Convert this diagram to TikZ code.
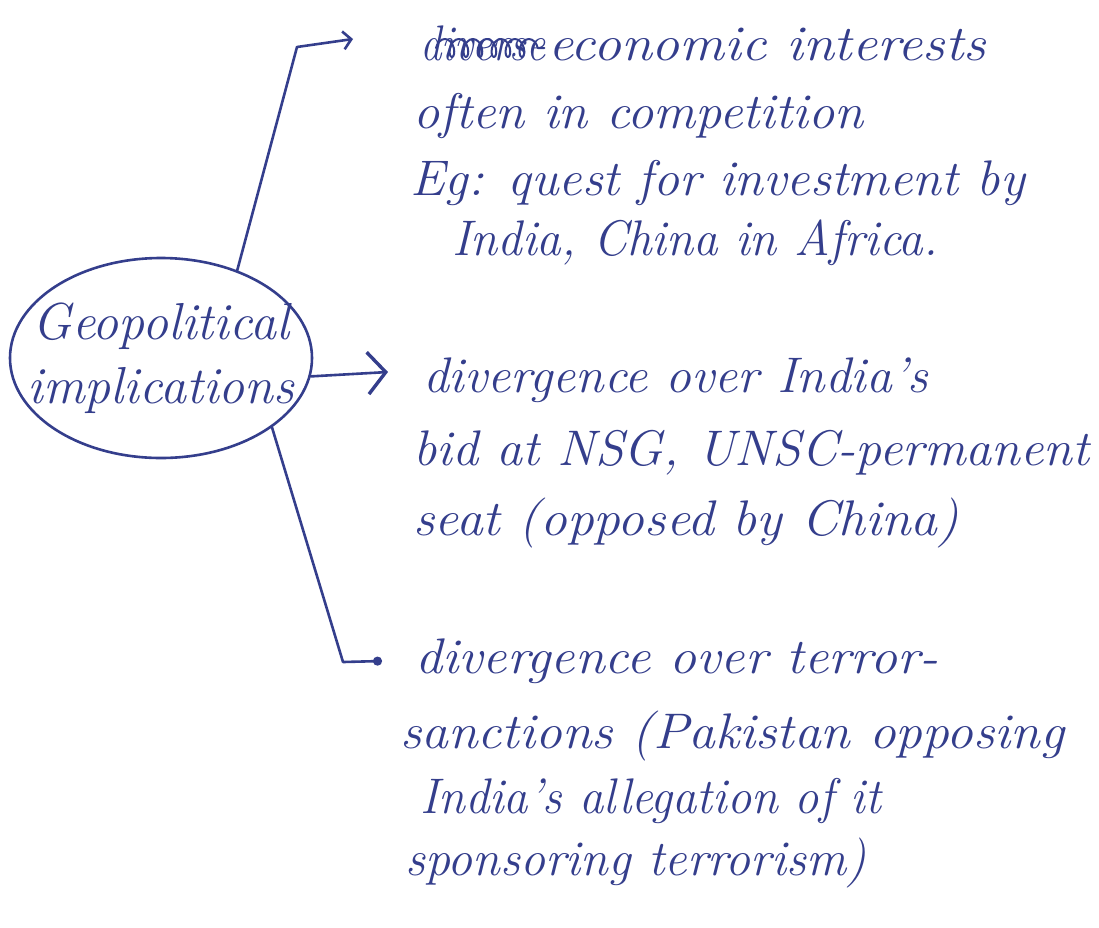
\documentclass[tikz,border=0pt]{standalone}
\usepackage{fontspec}
\usetikzlibrary{shapes.geometric,arrows.meta,decorations.pathmorphing}
\definecolor{ink}{RGB}{52,62,140}
\begin{document}
\begin{tikzpicture}[x=1pt,y=-1pt,
  ink line/.style={draw=ink,line width=2.6pt,line cap=round,line join=round},
  hand/.style={text=ink,font=\fontsize{50}{62}\selectfont\itshape,inner sep=0pt,anchor=base west,transform shape},
  small barb/.style={-{Straight Barb[length=8pt,width=18pt,line width=2.6pt]}},
  big barb/.style={-{Straight Barb[length=18pt,width=42pt,line width=3.4pt]}}]
\useasboundingbox (0,0) rectangle (1099,927);
\fill[white] (0,0) rectangle (1099,927);

% central topic
\node[ink line,ellipse,minimum width=302pt,minimum height=200pt,inner sep=0pt] (geo) at (161,358) {};
\node[text=ink,align=center,font=\fontsize{52}{64}\selectfont\itshape,inner sep=0pt] (geotext) at (geo.center) {Geopolitical\\implications};

% first branch, with its first word struck out
\node[hand,xscale=0.85] (cx) at (420,60) {diverse};
\draw[ink line,line width=2pt,decorate,decoration={coil,aspect=0.6,segment length=14pt,amplitude=9pt}]
  ([xshift=16pt,yshift=12pt]cx.base west) -- ([xshift=-2pt,yshift=12pt]cx.base east);
\node[hand,xscale=1.12] (e1) at (548,60) {economic interests};
\node[hand,xscale=1.05] (e2) at (413,128) {often in competition};
\node[hand,xscale=1.04] (e3) at (410,195) {Eg: quest for investment by};
\node[hand,xscale=0.98] (e4) at (452,255) {India, China in Africa.};

% second branch
\node[hand,xscale=1.03] (d1) at (423,392) {divergence over India's};
\node[hand,xscale=1.04] (d2) at (413,465) {bid at NSG, UNSC-permanent};
\node[hand,xscale=1.07] (d3) at (413,535) {seat (opposed by China)};

% third branch
\node[hand,xscale=1.08] (t1) at (415,673) {divergence over terror-};
\node[hand,xscale=1.07] (t2) at (400,748) {sanctions (Pakistan opposing};
\node[hand,xscale=0.97] (t3) at (420,813) {India's allegation of it};
\node[hand,xscale=1.0] (t4) at (405,875) {sponsoring terrorism)};

% connectors
\coordinate (k1) at (297,47);
\coordinate (a1) at (353,39);
\coordinate (a2) at (388,372);
\coordinate (k3) at (343,662);
\coordinate (a3) at (382,661);
\draw[ink line,small barb] (geo.49) -- (k1) -- (a1);
\draw[ink line,big barb] (geo.-7) -- (a2);
\draw[ink line,-{Circle[length=9pt]}] (geo.-32) -- (k3) -- (a3);
\end{tikzpicture}
\end{document}
